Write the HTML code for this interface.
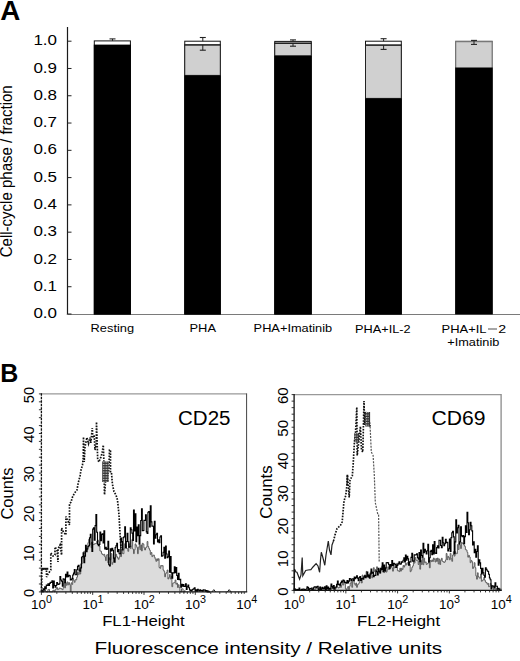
<!DOCTYPE html>
<html><head><meta charset="utf-8"><title>Figure</title>
<style>
html,body{margin:0;padding:0;background:#fff;}
body{width:520px;height:661px;overflow:hidden;font-family:"Liberation Sans",sans-serif;}
svg{display:block;}
text{fill:#000;}
</style></head>
<body>
<svg width="520" height="661" viewBox="0 0 520 661">
<rect x="0" y="0" width="520" height="661" fill="#fff"/>
<text x="0.2" y="20" font-size="27.8" font-weight="bold" font-family="'Liberation Sans', sans-serif">A</text>
<line x1="67.5" y1="27.0" x2="67.5" y2="314.90000000000003" stroke="#1a1a1a" stroke-width="1.2"/>
<line x1="66.9" y1="314.5" x2="520" y2="314.5" stroke="#7a7a7a" stroke-width="1.1"/>
<line x1="67.5" y1="41.20" x2="71.5" y2="41.20" stroke="#222" stroke-width="1"/>
<text x="57.0" y="45.30" font-size="15" text-anchor="end" textLength="23.6" lengthAdjust="spacingAndGlyphs" font-family="'Liberation Sans', sans-serif">1.0</text>
<line x1="67.5" y1="68.48" x2="71.5" y2="68.48" stroke="#222" stroke-width="1"/>
<text x="57.0" y="72.58" font-size="15" text-anchor="end" textLength="23.6" lengthAdjust="spacingAndGlyphs" font-family="'Liberation Sans', sans-serif">0.9</text>
<line x1="67.5" y1="95.76" x2="71.5" y2="95.76" stroke="#222" stroke-width="1"/>
<text x="57.0" y="99.86" font-size="15" text-anchor="end" textLength="23.6" lengthAdjust="spacingAndGlyphs" font-family="'Liberation Sans', sans-serif">0.8</text>
<line x1="67.5" y1="123.04" x2="71.5" y2="123.04" stroke="#222" stroke-width="1"/>
<text x="57.0" y="127.14" font-size="15" text-anchor="end" textLength="23.6" lengthAdjust="spacingAndGlyphs" font-family="'Liberation Sans', sans-serif">0.7</text>
<line x1="67.5" y1="150.32" x2="71.5" y2="150.32" stroke="#222" stroke-width="1"/>
<text x="57.0" y="154.42" font-size="15" text-anchor="end" textLength="23.6" lengthAdjust="spacingAndGlyphs" font-family="'Liberation Sans', sans-serif">0.6</text>
<line x1="67.5" y1="177.60" x2="71.5" y2="177.60" stroke="#222" stroke-width="1"/>
<text x="57.0" y="181.70" font-size="15" text-anchor="end" textLength="23.6" lengthAdjust="spacingAndGlyphs" font-family="'Liberation Sans', sans-serif">0.5</text>
<line x1="67.5" y1="204.88" x2="71.5" y2="204.88" stroke="#222" stroke-width="1"/>
<text x="57.0" y="208.98" font-size="15" text-anchor="end" textLength="23.6" lengthAdjust="spacingAndGlyphs" font-family="'Liberation Sans', sans-serif">0.4</text>
<line x1="67.5" y1="232.16" x2="71.5" y2="232.16" stroke="#222" stroke-width="1"/>
<text x="57.0" y="236.26" font-size="15" text-anchor="end" textLength="23.6" lengthAdjust="spacingAndGlyphs" font-family="'Liberation Sans', sans-serif">0.3</text>
<line x1="67.5" y1="259.44" x2="71.5" y2="259.44" stroke="#222" stroke-width="1"/>
<text x="57.0" y="263.54" font-size="15" text-anchor="end" textLength="23.6" lengthAdjust="spacingAndGlyphs" font-family="'Liberation Sans', sans-serif">0.2</text>
<line x1="67.5" y1="286.72" x2="71.5" y2="286.72" stroke="#222" stroke-width="1"/>
<text x="57.0" y="290.82" font-size="15" text-anchor="end" textLength="23.6" lengthAdjust="spacingAndGlyphs" font-family="'Liberation Sans', sans-serif">0.1</text>
<line x1="67.5" y1="314.00" x2="71.5" y2="314.00" stroke="#222" stroke-width="1"/>
<text x="57.0" y="318.10" font-size="15" text-anchor="end" textLength="23.6" lengthAdjust="spacingAndGlyphs" font-family="'Liberation Sans', sans-serif">0.0</text>
<text transform="translate(12.3,257.3) rotate(-90)" font-size="16" textLength="172" lengthAdjust="spacingAndGlyphs" font-family="'Liberation Sans', sans-serif">Cell-cycle phase / fraction</text>
<rect x="94.3" y="40.9" width="36.10000000000001" height="273.40000000000003" fill="#fff" stroke="#111" stroke-width="1"/>
<rect x="93.8" y="44.6" width="37.10000000000001" height="269.7" fill="#000"/>
<line x1="112.50" y1="38.9" x2="112.50" y2="40.9" stroke="#222" stroke-width="1"/>
<line x1="109.50" y1="38.9" x2="115.50" y2="38.9" stroke="#222" stroke-width="1.1"/>
<rect x="184.75" y="41.2" width="35.55000000000001" height="273.1" fill="#fff" stroke="#111" stroke-width="1"/>
<rect x="184.75" y="44.9" width="35.55000000000001" height="30.500000000000007" fill="#d0d0d0" stroke="#222" stroke-width="1"/>
<line x1="184.25" y1="44.9" x2="220.8" y2="44.9" stroke="#222" stroke-width="1.4"/>
<rect x="184.25" y="75.4" width="36.55000000000001" height="238.9" fill="#000"/>
<line x1="202.80" y1="37.5" x2="202.80" y2="41.2" stroke="#222" stroke-width="1"/>
<line x1="199.80" y1="37.5" x2="205.80" y2="37.5" stroke="#222" stroke-width="1.1"/>
<line x1="202.80" y1="44.9" x2="202.80" y2="50.2" stroke="#222" stroke-width="1"/>
<line x1="199.80" y1="50.2" x2="205.80" y2="50.2" stroke="#222" stroke-width="1.1"/>
<rect x="274.75" y="41.4" width="36.5" height="272.90000000000003" fill="#fff" stroke="#111" stroke-width="1"/>
<rect x="274.75" y="43.3" width="36.5" height="12.5" fill="#d0d0d0" stroke="#222" stroke-width="1"/>
<line x1="274.25" y1="43.3" x2="311.75" y2="43.3" stroke="#222" stroke-width="1.4"/>
<rect x="274.25" y="55.8" width="37.5" height="258.5" fill="#000"/>
<line x1="293.00" y1="39.9" x2="293.00" y2="41.4" stroke="#222" stroke-width="1"/>
<line x1="290.00" y1="39.9" x2="296.00" y2="39.9" stroke="#222" stroke-width="1.1"/>
<line x1="293.00" y1="43.3" x2="293.00" y2="46.2" stroke="#222" stroke-width="1"/>
<line x1="290.00" y1="46.2" x2="296.00" y2="46.2" stroke="#222" stroke-width="1.1"/>
<rect x="365.5" y="41.2" width="35.80000000000001" height="273.1" fill="#fff" stroke="#111" stroke-width="1"/>
<rect x="365.5" y="45.1" width="35.80000000000001" height="53.300000000000004" fill="#d0d0d0" stroke="#222" stroke-width="1"/>
<line x1="365.0" y1="45.1" x2="401.8" y2="45.1" stroke="#222" stroke-width="1.4"/>
<rect x="365.0" y="98.4" width="36.80000000000001" height="215.9" fill="#000"/>
<line x1="383.60" y1="38.7" x2="383.60" y2="41.2" stroke="#222" stroke-width="1"/>
<line x1="380.60" y1="38.7" x2="386.60" y2="38.7" stroke="#222" stroke-width="1.1"/>
<line x1="383.60" y1="45.1" x2="383.60" y2="49.4" stroke="#222" stroke-width="1"/>
<line x1="380.60" y1="49.4" x2="386.60" y2="49.4" stroke="#222" stroke-width="1.1"/>
<rect x="455.7" y="41.4" width="36.5" height="272.90000000000003" fill="#d0d0d0" stroke="#555" stroke-width="1"/>
<rect x="455.2" y="67.5" width="37.5" height="246.8" fill="#000"/>
<line x1="455.2" y1="41.4" x2="492.7" y2="41.4" stroke="#777" stroke-width="1.5"/>
<line x1="474.00" y1="40.4" x2="474.00" y2="41.4" stroke="#222" stroke-width="1"/>
<line x1="471.00" y1="40.4" x2="477.00" y2="40.4" stroke="#222" stroke-width="1.1"/>
<line x1="474.00" y1="41.4" x2="474.00" y2="44.4" stroke="#222" stroke-width="1"/>
<line x1="471.00" y1="44.4" x2="477.00" y2="44.4" stroke="#222" stroke-width="1.1"/>
<text x="90.6" y="332.0" font-size="11.2" text-anchor="start" textLength="43.5" lengthAdjust="spacingAndGlyphs" font-family="'Liberation Sans', sans-serif">Resting</text>
<text x="189.5" y="332.2" font-size="11.2" text-anchor="start" textLength="26.5" lengthAdjust="spacingAndGlyphs" font-family="'Liberation Sans', sans-serif">PHA</text>
<text x="253.6" y="332.2" font-size="11.2" text-anchor="start" textLength="78.6" lengthAdjust="spacingAndGlyphs" font-family="'Liberation Sans', sans-serif">PHA+Imatinib</text>
<text x="355.1" y="332.6" font-size="11.2" text-anchor="start" textLength="55.5" lengthAdjust="spacingAndGlyphs" font-family="'Liberation Sans', sans-serif">PHA+IL-2</text>
<text x="441.5" y="332.6" font-size="11.2" text-anchor="start" textLength="45.0" lengthAdjust="spacingAndGlyphs" font-family="'Liberation Sans', sans-serif">PHA+IL</text>
<line x1="488.0" y1="329.0" x2="497.0" y2="329.0" stroke="#3a3a3a" stroke-width="0.9"/>
<text x="498.3" y="332.6" font-size="11.2" text-anchor="start" textLength="7.9" lengthAdjust="spacingAndGlyphs" font-family="'Liberation Sans', sans-serif">2</text>
<text x="447.3" y="345.7" font-size="11.2" text-anchor="start" textLength="52.0" lengthAdjust="spacingAndGlyphs" font-family="'Liberation Sans', sans-serif">+Imatinib</text>
<text x="0.3" y="382" font-size="25" font-weight="bold" font-family="'Liberation Sans', sans-serif">B</text>
<polyline points="212,591.9 213.8,589.6 215.6,591.9" fill="none" stroke="#222" stroke-width="1"/>
<polyline points="227.4,591.9 229.2,589.6 231,591.9" fill="none" stroke="#222" stroke-width="1"/>
<line x1="41.8" y1="568.8" x2="48.3" y2="568.8" stroke="#111" stroke-width="2"/>
<polygon points="41.5,591.9 41.5,590.2 42.3,590.2 42.3,591.9 43.1,591.9 43.1,591.9 43.9,591.9 43.9,590.8 44.7,590.8 44.7,589.8 45.5,589.8 45.5,591.3 46.3,591.3 46.3,591.9 47.1,591.9 47.1,591.9 47.9,591.9 47.9,589.6 48.7,589.6 48.7,589.4 49.5,589.4 49.5,591.9 50.3,591.9 50.3,591.8 51.1,591.8 51.1,591.9 51.9,591.9 51.9,591.9 52.7,591.9 52.7,590.5 53.5,590.5 53.5,590.1 54.3,590.1 54.3,591.9 55.1,591.9 55.1,589.8 55.9,589.8 55.9,588.7 56.7,588.7 56.7,587.6 57.5,587.6 57.5,589.6 58.3,589.6 58.3,589.3 59.1,589.3 59.1,588.0 59.9,588.0 59.9,588.2 60.7,588.2 60.7,588.6 61.5,588.6 61.5,589.1 62.3,589.1 62.3,589.7 63.1,589.7 63.1,587.5 63.9,587.5 63.9,582.8 64.7,582.8 64.7,587.9 65.5,587.9 65.5,582.9 66.3,582.9 66.3,585.3 67.1,585.3 67.1,581.9 67.9,581.9 67.9,584.9 68.7,584.9 68.7,582.6 69.5,582.6 69.5,584.6 70.3,584.6 70.3,591.5 71.1,591.5 71.1,582.8 71.9,582.8 71.9,584.4 72.7,584.4 72.7,578.4 73.5,578.4 73.5,580.4 74.3,580.4 74.3,582.3 75.1,582.3 75.1,579.7 75.9,579.7 75.9,579.9 76.7,579.9 76.7,577.2 77.5,577.2 77.5,572.3 78.3,572.3 78.3,574.7 79.1,574.7 79.1,568.9 79.9,568.9 79.9,574.0 80.7,574.0 80.7,563.8 81.5,563.8 81.5,563.8 82.3,563.8 82.3,558.4 83.1,558.4 83.1,557.8 83.9,557.8 83.9,551.1 84.7,551.1 84.7,553.8 85.5,553.8 85.5,548.3 86.3,548.3 86.3,550.3 87.1,550.3 87.1,546.3 87.9,546.3 87.9,542.7 88.7,542.7 88.7,539.4 89.5,539.4 89.5,544.4 90.3,544.4 90.3,543.8 91.1,543.8 91.1,547.7 91.9,547.7 91.9,541.9 92.7,541.9 92.7,544.7 93.5,544.7 93.5,544.5 94.3,544.5 94.3,543.8 95.1,543.8 95.1,543.6 95.9,543.6 95.9,543.5 96.7,543.5 96.7,541.2 97.5,541.2 97.5,540.0 98.3,540.0 98.3,541.8 99.1,541.8 99.1,546.1 99.9,546.1 99.9,550.9 100.7,550.9 100.7,551.3 101.5,551.3 101.5,553.6 102.3,553.6 102.3,554.5 103.1,554.5 103.1,555.1 103.9,555.1 103.9,554.3 104.7,554.3 104.7,556.8 105.5,556.8 105.5,560.6 106.3,560.6 106.3,555.1 107.1,555.1 107.1,554.7 107.9,554.7 107.9,562.9 108.7,562.9 108.7,557.7 109.5,557.7 109.5,559.9 110.3,559.9 110.3,559.6 111.1,559.6 111.1,553.6 111.9,553.6 111.9,564.3 112.7,564.3 112.7,562.3 113.5,562.3 113.5,557.5 114.3,557.5 114.3,559.3 115.1,559.3 115.1,557.4 115.9,557.4 115.9,554.3 116.7,554.3 116.7,556.7 117.5,556.7 117.5,558.1 118.3,558.1 118.3,559.3 119.1,559.3 119.1,557.0 119.9,557.0 119.9,553.9 120.7,553.9 120.7,556.6 121.5,556.6 121.5,549.4 122.3,549.4 122.3,553.4 123.1,553.4 123.1,553.7 123.9,553.7 123.9,548.8 124.7,548.8 124.7,543.7 125.5,543.7 125.5,545.7 126.3,545.7 126.3,548.5 127.1,548.5 127.1,548.7 127.9,548.7 127.9,551.3 128.7,551.3 128.7,543.7 129.5,543.7 129.5,546.7 130.3,546.7 130.3,548.6 131.1,548.6 131.1,546.2 131.9,546.2 131.9,539.6 132.7,539.6 132.7,549.1 133.5,549.1 133.5,553.6 134.3,553.6 134.3,549.7 135.1,549.7 135.1,543.9 135.9,543.9 135.9,545.5 136.7,545.5 136.7,547.3 137.5,547.3 137.5,553.7 138.3,553.7 138.3,547.6 139.1,547.6 139.1,545.6 139.9,545.6 139.9,549.7 140.7,549.7 140.7,544.9 141.5,544.9 141.5,550.9 142.3,550.9 142.3,543.3 143.1,543.3 143.1,544.1 143.9,544.1 143.9,547.8 144.7,547.8 144.7,550.0 145.5,550.0 145.5,547.8 146.3,547.8 146.3,546.9 147.1,546.9 147.1,541.5 147.9,541.5 147.9,546.5 148.7,546.5 148.7,548.4 149.5,548.4 149.5,550.2 150.3,550.2 150.3,554.4 151.1,554.4 151.1,552.5 151.9,552.5 151.9,556.6 152.7,556.6 152.7,555.3 153.5,555.3 153.5,555.0 154.3,555.0 154.3,557.2 155.1,557.2 155.1,559.1 155.9,559.1 155.9,561.3 156.7,561.3 156.7,558.8 157.5,558.8 157.5,560.5 158.3,560.5 158.3,558.7 159.1,558.7 159.1,567.5 159.9,567.5 159.9,568.3 160.7,568.3 160.7,565.5 161.5,565.5 161.5,566.1 162.3,566.1 162.3,565.6 163.1,565.6 163.1,570.1 163.9,570.1 163.9,571.3 164.7,571.3 164.7,576.8 165.5,576.8 165.5,573.6 166.3,573.6 166.3,572.5 167.1,572.5 167.1,570.0 167.9,570.0 167.9,579.0 168.7,579.0 168.7,577.3 169.5,577.3 169.5,574.5 170.3,574.5 170.3,579.0 171.1,579.0 171.1,576.4 171.9,576.4 171.9,586.7 172.7,586.7 172.7,583.1 173.5,583.1 173.5,582.9 174.3,582.9 174.3,582.4 175.1,582.4 175.1,580.0 175.9,580.0 175.9,584.2 176.7,584.2 176.7,583.1 177.5,583.1 177.5,587.5 178.3,587.5 178.3,584.7 179.1,584.7 179.1,587.6 179.9,587.6 179.9,591.2 180.7,591.2 180.7,591.9 181.5,591.9 181.5,588.8 182.3,588.8 182.3,588.8 183.1,588.8 183.1,591.9 183.9,591.9 183.9,591.9 184.7,591.9 184.7,590.5 185.0,590.5 185.0,591.9" fill="#dcdcdc" stroke="none"/>
<polyline points="41.5,591.9 41.5,590.2 42.3,590.2 42.3,591.9 43.1,591.9 43.1,591.9 43.9,591.9 43.9,590.8 44.7,590.8 44.7,589.8 45.5,589.8 45.5,591.3 46.3,591.3 46.3,591.9 47.1,591.9 47.1,591.9 47.9,591.9 47.9,589.6 48.7,589.6 48.7,589.4 49.5,589.4 49.5,591.9 50.3,591.9 50.3,591.8 51.1,591.8 51.1,591.9 51.9,591.9 51.9,591.9 52.7,591.9 52.7,590.5 53.5,590.5 53.5,590.1 54.3,590.1 54.3,591.9 55.1,591.9 55.1,589.8 55.9,589.8 55.9,588.7 56.7,588.7 56.7,587.6 57.5,587.6 57.5,589.6 58.3,589.6 58.3,589.3 59.1,589.3 59.1,588.0 59.9,588.0 59.9,588.2 60.7,588.2 60.7,588.6 61.5,588.6 61.5,589.1 62.3,589.1 62.3,589.7 63.1,589.7 63.1,587.5 63.9,587.5 63.9,582.8 64.7,582.8 64.7,587.9 65.5,587.9 65.5,582.9 66.3,582.9 66.3,585.3 67.1,585.3 67.1,581.9 67.9,581.9 67.9,584.9 68.7,584.9 68.7,582.6 69.5,582.6 69.5,584.6 70.3,584.6 70.3,591.5 71.1,591.5 71.1,582.8 71.9,582.8 71.9,584.4 72.7,584.4 72.7,578.4 73.5,578.4 73.5,580.4 74.3,580.4 74.3,582.3 75.1,582.3 75.1,579.7 75.9,579.7 75.9,579.9 76.7,579.9 76.7,577.2 77.5,577.2 77.5,572.3 78.3,572.3 78.3,574.7 79.1,574.7 79.1,568.9 79.9,568.9 79.9,574.0 80.7,574.0 80.7,563.8 81.5,563.8 81.5,563.8 82.3,563.8 82.3,558.4 83.1,558.4 83.1,557.8 83.9,557.8 83.9,551.1 84.7,551.1 84.7,553.8 85.5,553.8 85.5,548.3 86.3,548.3 86.3,550.3 87.1,550.3 87.1,546.3 87.9,546.3 87.9,542.7 88.7,542.7 88.7,539.4 89.5,539.4 89.5,544.4 90.3,544.4 90.3,543.8 91.1,543.8 91.1,547.7 91.9,547.7 91.9,541.9 92.7,541.9 92.7,544.7 93.5,544.7 93.5,544.5 94.3,544.5 94.3,543.8 95.1,543.8 95.1,543.6 95.9,543.6 95.9,543.5 96.7,543.5 96.7,541.2 97.5,541.2 97.5,540.0 98.3,540.0 98.3,541.8 99.1,541.8 99.1,546.1 99.9,546.1 99.9,550.9 100.7,550.9 100.7,551.3 101.5,551.3 101.5,553.6 102.3,553.6 102.3,554.5 103.1,554.5 103.1,555.1 103.9,555.1 103.9,554.3 104.7,554.3 104.7,556.8 105.5,556.8 105.5,560.6 106.3,560.6 106.3,555.1 107.1,555.1 107.1,554.7 107.9,554.7 107.9,562.9 108.7,562.9 108.7,557.7 109.5,557.7 109.5,559.9 110.3,559.9 110.3,559.6 111.1,559.6 111.1,553.6 111.9,553.6 111.9,564.3 112.7,564.3 112.7,562.3 113.5,562.3 113.5,557.5 114.3,557.5 114.3,559.3 115.1,559.3 115.1,557.4 115.9,557.4 115.9,554.3 116.7,554.3 116.7,556.7 117.5,556.7 117.5,558.1 118.3,558.1 118.3,559.3 119.1,559.3 119.1,557.0 119.9,557.0 119.9,553.9 120.7,553.9 120.7,556.6 121.5,556.6 121.5,549.4 122.3,549.4 122.3,553.4 123.1,553.4 123.1,553.7 123.9,553.7 123.9,548.8 124.7,548.8 124.7,543.7 125.5,543.7 125.5,545.7 126.3,545.7 126.3,548.5 127.1,548.5 127.1,548.7 127.9,548.7 127.9,551.3 128.7,551.3 128.7,543.7 129.5,543.7 129.5,546.7 130.3,546.7 130.3,548.6 131.1,548.6 131.1,546.2 131.9,546.2 131.9,539.6 132.7,539.6 132.7,549.1 133.5,549.1 133.5,553.6 134.3,553.6 134.3,549.7 135.1,549.7 135.1,543.9 135.9,543.9 135.9,545.5 136.7,545.5 136.7,547.3 137.5,547.3 137.5,553.7 138.3,553.7 138.3,547.6 139.1,547.6 139.1,545.6 139.9,545.6 139.9,549.7 140.7,549.7 140.7,544.9 141.5,544.9 141.5,550.9 142.3,550.9 142.3,543.3 143.1,543.3 143.1,544.1 143.9,544.1 143.9,547.8 144.7,547.8 144.7,550.0 145.5,550.0 145.5,547.8 146.3,547.8 146.3,546.9 147.1,546.9 147.1,541.5 147.9,541.5 147.9,546.5 148.7,546.5 148.7,548.4 149.5,548.4 149.5,550.2 150.3,550.2 150.3,554.4 151.1,554.4 151.1,552.5 151.9,552.5 151.9,556.6 152.7,556.6 152.7,555.3 153.5,555.3 153.5,555.0 154.3,555.0 154.3,557.2 155.1,557.2 155.1,559.1 155.9,559.1 155.9,561.3 156.7,561.3 156.7,558.8 157.5,558.8 157.5,560.5 158.3,560.5 158.3,558.7 159.1,558.7 159.1,567.5 159.9,567.5 159.9,568.3 160.7,568.3 160.7,565.5 161.5,565.5 161.5,566.1 162.3,566.1 162.3,565.6 163.1,565.6 163.1,570.1 163.9,570.1 163.9,571.3 164.7,571.3 164.7,576.8 165.5,576.8 165.5,573.6 166.3,573.6 166.3,572.5 167.1,572.5 167.1,570.0 167.9,570.0 167.9,579.0 168.7,579.0 168.7,577.3 169.5,577.3 169.5,574.5 170.3,574.5 170.3,579.0 171.1,579.0 171.1,576.4 171.9,576.4 171.9,586.7 172.7,586.7 172.7,583.1 173.5,583.1 173.5,582.9 174.3,582.9 174.3,582.4 175.1,582.4 175.1,580.0 175.9,580.0 175.9,584.2 176.7,584.2 176.7,583.1 177.5,583.1 177.5,587.5 178.3,587.5 178.3,584.7 179.1,584.7 179.1,587.6 179.9,587.6 179.9,591.2 180.7,591.2 180.7,591.9 181.5,591.9 181.5,588.8 182.3,588.8 182.3,588.8 183.1,588.8 183.1,591.9 183.9,591.9 183.9,591.9 184.7,591.9 184.7,590.5 185.0,590.5 185.0,591.9" fill="none" stroke="#555" stroke-width="0.9"/>
<polyline points="41.6,591.5 41.8,568.8 46.5,568.8 46.5,577.0 48.0,574.0 50.8,570.0 50.8,553.0 53.0,556.0 55.0,555.0 55.0,547.0 57.0,550.0 58.0,562.0 58.0,549.0 60.0,545.0 61.6,555.0 61.6,528.0 63.5,532.0 65.9,535.0 65.9,516.5 67.5,520.0 69.5,525.0 69.5,504.0 71.0,502.0 72.5,497.0 74.5,493.0 77.0,490.0 78.0,484.0 79.0,480.0 80.0,476.0 81.0,470.0 82.5,465.0 83.2,458.0 83.5,437.0 84.2,462.0 85.0,447.0 86.9,437.5 88.5,443.5 90.0,437.5 90.8,443.0 92.3,428.0 92.8,438.0 94.2,435.0 95.0,450.0 96.3,444.0 96.5,422.0 97.2,445.0 97.7,459.6 99.0,462.0 100.0,459.0 101.0,457.0 102.3,452.0 103.3,445.0 103.8,459.0 104.5,494.7 105.5,482.0 108.8,470.0 109.5,450.0 110.5,450.0 110.5,472.7 111.5,473.0 112.4,484.0 114.0,491.7 116.0,495.0 117.5,500.0 119.0,515.0 120.4,540.0 121.0,548.0" fill="none" stroke="#111" stroke-width="1.7" stroke-dasharray="1.6,1.3"/>
<rect x="102.2" y="461.4" width="6.599999999999994" height="20.600000000000023" fill="#333"/>
<line x1="103.4" y1="461.4" x2="103.4" y2="482.0" stroke="#fff" stroke-width="0.7" stroke-dasharray="1.2,1.3"/>
<line x1="105.0" y1="461.4" x2="105.0" y2="482.0" stroke="#fff" stroke-width="0.7" stroke-dasharray="1.2,1.3"/>
<line x1="106.6" y1="461.4" x2="106.6" y2="482.0" stroke="#fff" stroke-width="0.7" stroke-dasharray="1.2,1.3"/>
<line x1="108.2" y1="461.4" x2="108.2" y2="482.0" stroke="#fff" stroke-width="0.7" stroke-dasharray="1.2,1.3"/>
<polyline points="41.5,591.9 41.5,590.8 42.3,590.8 42.3,591.7 43.1,591.7 43.1,588.8 43.9,588.8 43.9,590.0 44.7,590.0 44.7,586.8 45.5,586.8 45.5,588.7 46.3,588.7 46.3,585.0 47.1,585.0 47.1,585.4 47.9,585.4 47.9,583.9 48.7,583.9 48.7,585.5 49.5,585.5 49.5,583.4 50.3,583.4 50.3,582.3 51.1,582.3 51.1,582.4 51.9,582.4 51.9,580.9 52.7,580.9 52.7,588.0 53.5,588.0 53.5,581.1 54.3,581.1 54.3,585.5 55.1,585.5 55.1,587.3 55.9,587.3 55.9,585.5 56.7,585.5 56.7,582.6 57.5,582.6 57.5,584.1 58.3,584.1 58.3,584.4 59.1,584.4 59.1,583.7 59.9,583.7 59.9,576.5 60.7,576.5 60.7,580.0 61.5,580.0 61.5,581.2 62.3,581.2 62.3,586.2 63.1,586.2 63.1,578.9 63.9,578.9 63.9,579.3 64.7,579.3 64.7,582.8 65.5,582.8 65.5,574.2 66.3,574.2 66.3,576.9 67.1,576.9 67.1,572.1 67.9,572.1 67.9,576.6 68.7,576.6 68.7,575.3 69.5,575.3 69.5,575.7 70.3,575.7 70.3,580.0 71.1,580.0 71.1,579.6 71.9,579.6 71.9,578.4 72.7,578.4 72.7,575.0 73.5,575.0 73.5,573.1 74.3,573.1 74.3,569.6 75.1,569.6 75.1,574.8 75.9,574.8 75.9,574.7 76.7,574.7 76.7,569.8 77.5,569.8 77.5,566.4 78.3,566.4 78.3,565.2 79.1,565.2 79.1,570.3 79.9,570.3 79.9,571.3 80.7,571.3 80.7,567.9 81.5,567.9 81.5,557.2 82.3,557.2 82.3,556.6 83.1,556.6 83.1,552.8 83.9,552.8 83.9,562.8 84.7,562.8 84.7,556.1 85.5,556.1 85.5,545.4 86.3,545.4 86.3,551.8 87.1,551.8 87.1,548.9 87.9,548.9 87.9,546.7 88.7,546.7 88.7,545.7 89.5,545.7 89.5,537.7 90.3,537.7 90.3,534.4 91.1,534.4 91.1,543.0 91.9,543.0 91.9,551.4 92.7,551.4 92.7,529.1 93.5,529.1 93.5,527.8 94.3,527.8 94.3,540.3 95.1,540.3 95.1,525.6 95.9,525.6 95.9,514.5 96.7,514.5 96.7,532.2 97.5,532.2 97.5,544.2 98.3,544.2 98.3,545.8 99.1,545.8 99.1,544.4 99.9,544.4 99.9,532.1 100.7,532.1 100.7,540.6 101.5,540.6 101.5,534.4 102.3,534.4 102.3,533.9 103.1,533.9 103.1,542.9 103.9,542.9 103.9,530.8 104.7,530.8 104.7,548.9 105.5,548.9 105.5,547.2 106.3,547.2 106.3,549.5 107.1,549.5 107.1,548.9 107.9,548.9 107.9,541.2 108.7,541.2 108.7,564.7 109.5,564.7 109.5,566.0 110.3,566.0 110.3,548.7 111.1,548.7 111.1,550.9 111.9,550.9 111.9,548.3 112.7,548.3 112.7,550.2 113.5,550.2 113.5,558.2 114.3,558.2 114.3,562.2 115.1,562.2 115.1,547.6 115.9,547.6 115.9,545.9 116.7,545.9 116.7,543.2 117.5,543.2 117.5,551.7 118.3,551.7 118.3,549.5 119.1,549.5 119.1,553.7 119.9,553.7 119.9,553.7 120.7,553.7 120.7,538.0 121.5,538.0 121.5,541.6 122.3,541.6 122.3,549.9 123.1,549.9 123.1,537.6 123.9,537.6 123.9,536.7 124.7,536.7 124.7,526.7 125.5,526.7 125.5,547.7 126.3,547.7 126.3,541.5 127.1,541.5 127.1,533.3 127.9,533.3 127.9,541.8 128.7,541.8 128.7,547.3 129.5,547.3 129.5,546.7 130.3,546.7 130.3,527.7 131.1,527.7 131.1,529.7 131.9,529.7 131.9,533.1 132.7,533.1 132.7,540.4 133.5,540.4 133.5,510.1 134.3,510.1 134.3,530.9 135.1,530.9 135.1,513.7 135.9,513.7 135.9,541.8 136.7,541.8 136.7,527.1 137.5,527.1 137.5,535.6 138.3,535.6 138.3,524.7 139.1,524.7 139.1,544.3 139.9,544.3 139.9,535.6 140.7,535.6 140.7,520.5 141.5,520.5 141.5,508.7 142.3,508.7 142.3,530.7 143.1,530.7 143.1,530.5 143.9,530.5 143.9,520.4 144.7,520.4 144.7,520.4 145.5,520.4 145.5,514.7 146.3,514.7 146.3,531.9 147.1,531.9 147.1,533.5 147.9,533.5 147.9,512.3 148.7,512.3 148.7,511.5 149.5,511.5 149.5,527.0 150.3,527.0 150.3,505.7 151.1,505.7 151.1,521.9 151.9,521.9 151.9,526.1 152.7,526.1 152.7,526.2 153.5,526.2 153.5,543.9 154.3,543.9 154.3,521.3 155.1,521.3 155.1,538.2 155.9,538.2 155.9,534.7 156.7,534.7 156.7,533.3 157.5,533.3 157.5,541.9 158.3,541.9 158.3,539.8 159.1,539.8 159.1,542.8 159.9,542.8 159.9,537.0 160.7,537.0 160.7,535.8 161.5,535.8 161.5,556.1 162.3,556.1 162.3,555.7 163.1,555.7 163.1,552.2 163.9,552.2 163.9,547.4 164.7,547.4 164.7,558.2 165.5,558.2 165.5,546.0 166.3,546.0 166.3,554.0 167.1,554.0 167.1,557.6 167.9,557.6 167.9,556.8 168.7,556.8 168.7,551.0 169.5,551.0 169.5,572.1 170.3,572.1 170.3,556.6 171.1,556.6 171.1,572.7 171.9,572.7 171.9,578.2 172.7,578.2 172.7,572.7 173.5,572.7 173.5,573.0 174.3,573.0 174.3,566.8 175.1,566.8 175.1,572.7 175.9,572.7 175.9,567.5 176.7,567.5 176.7,575.5 177.5,575.5 177.5,579.4 178.3,579.4 178.3,573.3 179.1,573.3 179.1,579.6 179.9,579.6 179.9,579.3 180.7,579.3 180.7,587.1 181.5,587.1 181.5,584.2 182.3,584.2 182.3,586.1 183.1,586.1 183.1,584.5 183.9,584.5 183.9,586.4 184.7,586.4 184.7,586.5 185.5,586.5 185.5,583.7 186.3,583.7 186.3,589.5 187.1,589.5 187.1,586.8 187.9,586.8 187.9,585.0 188.7,585.0 188.7,587.8 189.5,587.8 189.5,589.9 190.3,589.9 190.3,590.4 191.1,590.4 191.1,590.9 191.9,590.9 191.9,589.9 192.7,589.9 192.7,589.2 193.5,589.2 193.5,588.9 194.3,588.9 194.3,587.8 195.1,587.8 195.1,591.1 195.9,591.1 195.9,589.9 196.7,589.9 196.7,591.3 197.5,591.3 197.5,589.4 198.3,589.4 198.3,590.2 199.1,590.2 199.1,591.0 199.9,591.0 199.9,589.8 200.7,589.8 200.7,590.6 201.5,590.6 201.5,590.6 202.3,590.6 202.3,591.1 203.1,591.1 203.1,589.7 203.9,589.7 203.9,590.1 204.7,590.1 204.7,590.0 205.5,590.0 205.5,591.1 206.3,591.1 206.3,590.6 207.1,590.6 207.1,591.9 207.9,591.9 207.9,591.0 208.7,591.0 208.7,591.9 209.5,591.9 209.5,591.9 210.0,591.9 210.0,591.9" fill="none" stroke="#000" stroke-width="1.1"/>
<polygon points="294.2,590.4 294.2,590.4 295.0,590.4 295.0,589.2 295.8,589.2 295.8,590.4 296.6,590.4 296.6,589.8 297.4,589.8 297.4,589.2 298.2,589.2 298.2,589.5 299.0,589.5 299.0,589.5 299.8,589.5 299.8,589.8 300.6,589.8 300.6,590.3 301.4,590.3 301.4,590.4 302.2,590.4 302.2,590.0 303.0,590.0 303.0,590.4 303.8,590.4 303.8,590.2 304.6,590.2 304.6,589.8 305.4,589.8 305.4,589.4 306.2,589.4 306.2,588.5 307.0,588.5 307.0,587.7 307.8,587.7 307.8,589.4 308.6,589.4 308.6,589.2 309.4,589.2 309.4,589.8 310.2,589.8 310.2,589.8 311.0,589.8 311.0,587.7 311.8,587.7 311.8,588.4 312.6,588.4 312.6,587.8 313.4,587.8 313.4,590.4 314.2,590.4 314.2,589.0 315.0,589.0 315.0,589.3 315.8,589.3 315.8,587.8 316.6,587.8 316.6,587.3 317.4,587.3 317.4,588.2 318.2,588.2 318.2,588.8 319.0,588.8 319.0,589.6 319.8,589.6 319.8,586.6 320.6,586.6 320.6,589.3 321.4,589.3 321.4,587.5 322.2,587.5 322.2,587.9 323.0,587.9 323.0,588.2 323.8,588.2 323.8,588.0 324.6,588.0 324.6,589.4 325.4,589.4 325.4,590.0 326.2,590.0 326.2,589.1 327.0,589.1 327.0,587.6 327.8,587.6 327.8,589.2 328.6,589.2 328.6,589.1 329.4,589.1 329.4,589.9 330.2,589.9 330.2,588.7 331.0,588.7 331.0,585.3 331.8,585.3 331.8,586.7 332.6,586.7 332.6,587.2 333.4,587.2 333.4,589.4 334.2,589.4 334.2,587.4 335.0,587.4 335.0,589.2 335.8,589.2 335.8,587.9 336.6,587.9 336.6,584.9 337.4,584.9 337.4,587.2 338.2,587.2 338.2,588.0 339.0,588.0 339.0,587.6 339.8,587.6 339.8,583.7 340.6,583.7 340.6,587.4 341.4,587.4 341.4,585.2 342.2,585.2 342.2,582.0 343.0,582.0 343.0,585.0 343.8,585.0 343.8,582.0 344.6,582.0 344.6,583.2 345.4,583.2 345.4,588.8 346.2,588.8 346.2,590.4 347.0,590.4 347.0,587.9 347.8,587.9 347.8,586.5 348.6,586.5 348.6,589.6 349.4,589.6 349.4,586.2 350.2,586.2 350.2,583.3 351.0,583.3 351.0,580.1 351.8,580.1 351.8,587.3 352.6,587.3 352.6,580.3 353.4,580.3 353.4,578.9 354.2,578.9 354.2,583.7 355.0,583.7 355.0,585.2 355.8,585.2 355.8,583.0 356.6,583.0 356.6,587.3 357.4,587.3 357.4,584.7 358.2,584.7 358.2,583.9 359.0,583.9 359.0,582.6 359.8,582.6 359.8,578.4 360.6,578.4 360.6,578.3 361.4,578.3 361.4,583.0 362.2,583.0 362.2,575.0 363.0,575.0 363.0,577.2 363.8,577.2 363.8,577.8 364.6,577.8 364.6,574.9 365.4,574.9 365.4,575.8 366.2,575.8 366.2,571.4 367.0,571.4 367.0,574.1 367.8,574.1 367.8,575.0 368.6,575.0 368.6,577.3 369.4,577.3 369.4,576.6 370.2,576.6 370.2,572.5 371.0,572.5 371.0,570.8 371.8,570.8 371.8,577.9 372.6,577.9 372.6,575.2 373.4,575.2 373.4,567.7 374.2,567.7 374.2,571.4 375.0,571.4 375.0,569.6 375.8,569.6 375.8,570.0 376.6,570.0 376.6,566.8 377.4,566.8 377.4,569.8 378.2,569.8 378.2,569.4 379.0,569.4 379.0,569.9 379.8,569.9 379.8,573.1 380.6,573.1 380.6,570.8 381.4,570.8 381.4,566.7 382.2,566.7 382.2,565.1 383.0,565.1 383.0,568.2 383.8,568.2 383.8,572.6 384.6,572.6 384.6,571.8 385.4,571.8 385.4,567.4 386.2,567.4 386.2,572.1 387.0,572.1 387.0,569.9 387.8,569.9 387.8,566.8 388.6,566.8 388.6,569.5 389.4,569.5 389.4,567.9 390.2,567.9 390.2,564.8 391.0,564.8 391.0,566.5 391.8,566.5 391.8,568.0 392.6,568.0 392.6,571.2 393.4,571.2 393.4,564.3 394.2,564.3 394.2,567.9 395.0,567.9 395.0,567.2 395.8,567.2 395.8,567.0 396.6,567.0 396.6,563.4 397.4,563.4 397.4,570.7 398.2,570.7 398.2,570.8 399.0,570.8 399.0,571.6 399.8,571.6 399.8,568.2 400.6,568.2 400.6,571.1 401.4,571.1 401.4,568.2 402.2,568.2 402.2,569.6 403.0,569.6 403.0,565.5 403.8,565.5 403.8,567.1 404.6,567.1 404.6,565.4 405.4,565.4 405.4,563.1 406.2,563.1 406.2,564.9 407.0,564.9 407.0,562.8 407.8,562.8 407.8,562.7 408.6,562.7 408.6,564.8 409.4,564.8 409.4,564.1 410.2,564.1 410.2,571.7 411.0,571.7 411.0,570.1 411.8,570.1 411.8,567.4 412.6,567.4 412.6,565.9 413.4,565.9 413.4,560.3 414.2,560.3 414.2,563.1 415.0,563.1 415.0,557.6 415.8,557.6 415.8,560.0 416.6,560.0 416.6,560.5 417.4,560.5 417.4,560.8 418.2,560.8 418.2,564.5 419.0,564.5 419.0,559.6 419.8,559.6 419.8,569.2 420.6,569.2 420.6,560.4 421.4,560.4 421.4,564.5 422.2,564.5 422.2,557.2 423.0,557.2 423.0,564.7 423.8,564.7 423.8,558.2 424.6,558.2 424.6,562.5 425.4,562.5 425.4,561.9 426.2,561.9 426.2,564.4 427.0,564.4 427.0,563.8 427.8,563.8 427.8,563.1 428.6,563.1 428.6,561.5 429.4,561.5 429.4,567.8 430.2,567.8 430.2,560.4 431.0,560.4 431.0,561.6 431.8,561.6 431.8,559.9 432.6,559.9 432.6,561.5 433.4,561.5 433.4,558.0 434.2,558.0 434.2,559.4 435.0,559.4 435.0,562.0 435.8,562.0 435.8,558.5 436.6,558.5 436.6,561.4 437.4,561.4 437.4,558.0 438.2,558.0 438.2,563.9 439.0,563.9 439.0,559.0 439.8,559.0 439.8,564.5 440.6,564.5 440.6,560.4 441.4,560.4 441.4,558.3 442.2,558.3 442.2,561.3 443.0,561.3 443.0,561.7 443.8,561.7 443.8,562.5 444.6,562.5 444.6,561.8 445.4,561.8 445.4,560.0 446.2,560.0 446.2,553.5 447.0,553.5 447.0,559.6 447.8,559.6 447.8,556.3 448.6,556.3 448.6,557.5 449.4,557.5 449.4,559.8 450.2,559.8 450.2,553.3 451.0,553.3 451.0,558.7 451.8,558.7 451.8,561.3 452.6,561.3 452.6,555.0 453.4,555.0 453.4,551.7 454.2,551.7 454.2,556.1 455.0,556.1 455.0,551.8 455.8,551.8 455.8,553.7 456.6,553.7 456.6,553.6 457.4,553.6 457.4,544.6 458.2,544.6 458.2,549.5 459.0,549.5 459.0,543.3 459.8,543.3 459.8,545.2 460.6,545.2 460.6,548.5 461.4,548.5 461.4,542.5 462.2,542.5 462.2,543.3 463.0,543.3 463.0,543.5 463.8,543.5 463.8,545.1 464.6,545.1 464.6,546.4 465.4,546.4 465.4,549.7 466.2,549.7 466.2,550.0 467.0,550.0 467.0,552.3 467.8,552.3 467.8,557.2 468.6,557.2 468.6,555.3 469.4,555.3 469.4,557.1 470.2,557.1 470.2,562.7 471.0,562.7 471.0,560.4 471.8,560.4 471.8,561.7 472.6,561.7 472.6,568.5 473.4,568.5 473.4,566.9 474.2,566.9 474.2,562.7 475.0,562.7 475.0,567.7 475.8,567.7 475.8,575.8 476.6,575.8 476.6,579.2 477.4,579.2 477.4,572.8 478.2,572.8 478.2,576.5 479.0,576.5 479.0,577.9 479.8,577.9 479.8,578.2 480.6,578.2 480.6,574.1 481.4,574.1 481.4,581.3 482.2,581.3 482.2,580.3 483.0,580.3 483.0,579.8 483.8,579.8 483.8,577.4 484.6,577.4 484.6,580.3 485.4,580.3 485.4,582.1 486.2,582.1 486.2,582.5 487.0,582.5 487.0,584.2 487.8,584.2 487.8,583.4 488.6,583.4 488.6,586.7 489.4,586.7 489.4,586.4 490.2,586.4 490.2,583.4 491.0,583.4 491.0,585.0 491.8,585.0 491.8,587.4 492.6,587.4 492.6,586.2 493.4,586.2 493.4,589.8 494.2,589.8 494.2,587.2 495.0,587.2 495.0,588.9 495.8,588.9 495.8,589.8 496.6,589.8 496.6,588.1 497.4,588.1 497.4,590.4 498.2,590.4 498.2,589.8 499.0,589.8 499.0,589.4 499.8,589.4 499.8,589.5 500.6,589.5 500.6,588.8 501.0,588.8 501.0,590.4" fill="#dcdcdc" stroke="none"/>
<polyline points="294.2,590.4 294.2,590.4 295.0,590.4 295.0,589.2 295.8,589.2 295.8,590.4 296.6,590.4 296.6,589.8 297.4,589.8 297.4,589.2 298.2,589.2 298.2,589.5 299.0,589.5 299.0,589.5 299.8,589.5 299.8,589.8 300.6,589.8 300.6,590.3 301.4,590.3 301.4,590.4 302.2,590.4 302.2,590.0 303.0,590.0 303.0,590.4 303.8,590.4 303.8,590.2 304.6,590.2 304.6,589.8 305.4,589.8 305.4,589.4 306.2,589.4 306.2,588.5 307.0,588.5 307.0,587.7 307.8,587.7 307.8,589.4 308.6,589.4 308.6,589.2 309.4,589.2 309.4,589.8 310.2,589.8 310.2,589.8 311.0,589.8 311.0,587.7 311.8,587.7 311.8,588.4 312.6,588.4 312.6,587.8 313.4,587.8 313.4,590.4 314.2,590.4 314.2,589.0 315.0,589.0 315.0,589.3 315.8,589.3 315.8,587.8 316.6,587.8 316.6,587.3 317.4,587.3 317.4,588.2 318.2,588.2 318.2,588.8 319.0,588.8 319.0,589.6 319.8,589.6 319.8,586.6 320.6,586.6 320.6,589.3 321.4,589.3 321.4,587.5 322.2,587.5 322.2,587.9 323.0,587.9 323.0,588.2 323.8,588.2 323.8,588.0 324.6,588.0 324.6,589.4 325.4,589.4 325.4,590.0 326.2,590.0 326.2,589.1 327.0,589.1 327.0,587.6 327.8,587.6 327.8,589.2 328.6,589.2 328.6,589.1 329.4,589.1 329.4,589.9 330.2,589.9 330.2,588.7 331.0,588.7 331.0,585.3 331.8,585.3 331.8,586.7 332.6,586.7 332.6,587.2 333.4,587.2 333.4,589.4 334.2,589.4 334.2,587.4 335.0,587.4 335.0,589.2 335.8,589.2 335.8,587.9 336.6,587.9 336.6,584.9 337.4,584.9 337.4,587.2 338.2,587.2 338.2,588.0 339.0,588.0 339.0,587.6 339.8,587.6 339.8,583.7 340.6,583.7 340.6,587.4 341.4,587.4 341.4,585.2 342.2,585.2 342.2,582.0 343.0,582.0 343.0,585.0 343.8,585.0 343.8,582.0 344.6,582.0 344.6,583.2 345.4,583.2 345.4,588.8 346.2,588.8 346.2,590.4 347.0,590.4 347.0,587.9 347.8,587.9 347.8,586.5 348.6,586.5 348.6,589.6 349.4,589.6 349.4,586.2 350.2,586.2 350.2,583.3 351.0,583.3 351.0,580.1 351.8,580.1 351.8,587.3 352.6,587.3 352.6,580.3 353.4,580.3 353.4,578.9 354.2,578.9 354.2,583.7 355.0,583.7 355.0,585.2 355.8,585.2 355.8,583.0 356.6,583.0 356.6,587.3 357.4,587.3 357.4,584.7 358.2,584.7 358.2,583.9 359.0,583.9 359.0,582.6 359.8,582.6 359.8,578.4 360.6,578.4 360.6,578.3 361.4,578.3 361.4,583.0 362.2,583.0 362.2,575.0 363.0,575.0 363.0,577.2 363.8,577.2 363.8,577.8 364.6,577.8 364.6,574.9 365.4,574.9 365.4,575.8 366.2,575.8 366.2,571.4 367.0,571.4 367.0,574.1 367.8,574.1 367.8,575.0 368.6,575.0 368.6,577.3 369.4,577.3 369.4,576.6 370.2,576.6 370.2,572.5 371.0,572.5 371.0,570.8 371.8,570.8 371.8,577.9 372.6,577.9 372.6,575.2 373.4,575.2 373.4,567.7 374.2,567.7 374.2,571.4 375.0,571.4 375.0,569.6 375.8,569.6 375.8,570.0 376.6,570.0 376.6,566.8 377.4,566.8 377.4,569.8 378.2,569.8 378.2,569.4 379.0,569.4 379.0,569.9 379.8,569.9 379.8,573.1 380.6,573.1 380.6,570.8 381.4,570.8 381.4,566.7 382.2,566.7 382.2,565.1 383.0,565.1 383.0,568.2 383.8,568.2 383.8,572.6 384.6,572.6 384.6,571.8 385.4,571.8 385.4,567.4 386.2,567.4 386.2,572.1 387.0,572.1 387.0,569.9 387.8,569.9 387.8,566.8 388.6,566.8 388.6,569.5 389.4,569.5 389.4,567.9 390.2,567.9 390.2,564.8 391.0,564.8 391.0,566.5 391.8,566.5 391.8,568.0 392.6,568.0 392.6,571.2 393.4,571.2 393.4,564.3 394.2,564.3 394.2,567.9 395.0,567.9 395.0,567.2 395.8,567.2 395.8,567.0 396.6,567.0 396.6,563.4 397.4,563.4 397.4,570.7 398.2,570.7 398.2,570.8 399.0,570.8 399.0,571.6 399.8,571.6 399.8,568.2 400.6,568.2 400.6,571.1 401.4,571.1 401.4,568.2 402.2,568.2 402.2,569.6 403.0,569.6 403.0,565.5 403.8,565.5 403.8,567.1 404.6,567.1 404.6,565.4 405.4,565.4 405.4,563.1 406.2,563.1 406.2,564.9 407.0,564.9 407.0,562.8 407.8,562.8 407.8,562.7 408.6,562.7 408.6,564.8 409.4,564.8 409.4,564.1 410.2,564.1 410.2,571.7 411.0,571.7 411.0,570.1 411.8,570.1 411.8,567.4 412.6,567.4 412.6,565.9 413.4,565.9 413.4,560.3 414.2,560.3 414.2,563.1 415.0,563.1 415.0,557.6 415.8,557.6 415.8,560.0 416.6,560.0 416.6,560.5 417.4,560.5 417.4,560.8 418.2,560.8 418.2,564.5 419.0,564.5 419.0,559.6 419.8,559.6 419.8,569.2 420.6,569.2 420.6,560.4 421.4,560.4 421.4,564.5 422.2,564.5 422.2,557.2 423.0,557.2 423.0,564.7 423.8,564.7 423.8,558.2 424.6,558.2 424.6,562.5 425.4,562.5 425.4,561.9 426.2,561.9 426.2,564.4 427.0,564.4 427.0,563.8 427.8,563.8 427.8,563.1 428.6,563.1 428.6,561.5 429.4,561.5 429.4,567.8 430.2,567.8 430.2,560.4 431.0,560.4 431.0,561.6 431.8,561.6 431.8,559.9 432.6,559.9 432.6,561.5 433.4,561.5 433.4,558.0 434.2,558.0 434.2,559.4 435.0,559.4 435.0,562.0 435.8,562.0 435.8,558.5 436.6,558.5 436.6,561.4 437.4,561.4 437.4,558.0 438.2,558.0 438.2,563.9 439.0,563.9 439.0,559.0 439.8,559.0 439.8,564.5 440.6,564.5 440.6,560.4 441.4,560.4 441.4,558.3 442.2,558.3 442.2,561.3 443.0,561.3 443.0,561.7 443.8,561.7 443.8,562.5 444.6,562.5 444.6,561.8 445.4,561.8 445.4,560.0 446.2,560.0 446.2,553.5 447.0,553.5 447.0,559.6 447.8,559.6 447.8,556.3 448.6,556.3 448.6,557.5 449.4,557.5 449.4,559.8 450.2,559.8 450.2,553.3 451.0,553.3 451.0,558.7 451.8,558.7 451.8,561.3 452.6,561.3 452.6,555.0 453.4,555.0 453.4,551.7 454.2,551.7 454.2,556.1 455.0,556.1 455.0,551.8 455.8,551.8 455.8,553.7 456.6,553.7 456.6,553.6 457.4,553.6 457.4,544.6 458.2,544.6 458.2,549.5 459.0,549.5 459.0,543.3 459.8,543.3 459.8,545.2 460.6,545.2 460.6,548.5 461.4,548.5 461.4,542.5 462.2,542.5 462.2,543.3 463.0,543.3 463.0,543.5 463.8,543.5 463.8,545.1 464.6,545.1 464.6,546.4 465.4,546.4 465.4,549.7 466.2,549.7 466.2,550.0 467.0,550.0 467.0,552.3 467.8,552.3 467.8,557.2 468.6,557.2 468.6,555.3 469.4,555.3 469.4,557.1 470.2,557.1 470.2,562.7 471.0,562.7 471.0,560.4 471.8,560.4 471.8,561.7 472.6,561.7 472.6,568.5 473.4,568.5 473.4,566.9 474.2,566.9 474.2,562.7 475.0,562.7 475.0,567.7 475.8,567.7 475.8,575.8 476.6,575.8 476.6,579.2 477.4,579.2 477.4,572.8 478.2,572.8 478.2,576.5 479.0,576.5 479.0,577.9 479.8,577.9 479.8,578.2 480.6,578.2 480.6,574.1 481.4,574.1 481.4,581.3 482.2,581.3 482.2,580.3 483.0,580.3 483.0,579.8 483.8,579.8 483.8,577.4 484.6,577.4 484.6,580.3 485.4,580.3 485.4,582.1 486.2,582.1 486.2,582.5 487.0,582.5 487.0,584.2 487.8,584.2 487.8,583.4 488.6,583.4 488.6,586.7 489.4,586.7 489.4,586.4 490.2,586.4 490.2,583.4 491.0,583.4 491.0,585.0 491.8,585.0 491.8,587.4 492.6,587.4 492.6,586.2 493.4,586.2 493.4,589.8 494.2,589.8 494.2,587.2 495.0,587.2 495.0,588.9 495.8,588.9 495.8,589.8 496.6,589.8 496.6,588.1 497.4,588.1 497.4,590.4 498.2,590.4 498.2,589.8 499.0,589.8 499.0,589.4 499.8,589.4 499.8,589.5 500.6,589.5 500.6,588.8 501.0,588.8 501.0,590.4" fill="none" stroke="#555" stroke-width="0.9"/>
<polyline points="333.5,541.0 335.0,535.0 337.0,528.7 340.5,525.3 342.2,521.8 344.0,500.9 345.7,495.7 347.0,485.0 347.4,474.6" fill="none" stroke="#111" stroke-width="1.7" stroke-dasharray="1.6,1.3"/>
<polyline points="347.0,485.0 347.4,474.6 349.2,497.4 350.0,480.0 352.3,476.0 353.2,464.0 354.4,442.0 355.5,433.0 356.8,407.1 357.2,455.5 359.2,438.0 360.4,426.5 361.5,450.0 362.8,452.0 364.0,401.0 364.6,425.0 365.3,412.0 368.0,414.0 370.1,426.5" fill="none" stroke="#111" stroke-width="1.7" stroke-dasharray="1.6,1.3"/>
<polyline points="294.4,590.0 294.5,569.0 296.0,572.0 297.0,572.3 299.6,579.2 301.0,575.0 302.2,557.5 302.8,575.8 305.7,570.5 308.0,570.0 310.9,569.7 313.0,567.0 316.1,563.6 318.0,566.0 319.6,572.3 320.5,560.0 321.3,552.2 323.0,558.0 324.8,565.3 326.0,555.0 328.3,541.0 329.5,550.0 331.0,554.9 332.0,545.0 333.5,541.0" fill="none" stroke="#222" stroke-width="1.2"/>
<polyline points="370.1,426.5 371.3,452.0 373.1,455.5 374.3,475.0 375.3,502.6 377.9,514.8 378.6,515.0 379.2,562.0" fill="none" stroke="#555" stroke-width="1.2" stroke-dasharray="2,1.2"/>
<rect x="354.4" y="433" width="4.800000000000011" height="9.199999999999989" fill="#333"/>
<line x1="355.6" y1="433" x2="355.6" y2="442.2" stroke="#fff" stroke-width="0.7" stroke-dasharray="1.2,1.3"/>
<line x1="357.2" y1="433" x2="357.2" y2="442.2" stroke="#fff" stroke-width="0.7" stroke-dasharray="1.2,1.3"/>
<rect x="365.3" y="412" width="4.800000000000011" height="14.5" fill="#333"/>
<line x1="366.5" y1="412" x2="366.5" y2="426.5" stroke="#fff" stroke-width="0.7" stroke-dasharray="1.2,1.3"/>
<line x1="368.1" y1="412" x2="368.1" y2="426.5" stroke="#fff" stroke-width="0.7" stroke-dasharray="1.2,1.3"/>
<polyline points="294.2,590.4 294.2,588.7 295.0,588.7 295.0,589.3 295.8,589.3 295.8,590.4 296.6,590.4 296.6,589.7 297.4,589.7 297.4,589.6 298.2,589.6 298.2,590.2 299.0,590.2 299.0,588.1 299.8,588.1 299.8,590.2 300.6,590.2 300.6,590.4 301.4,590.4 301.4,589.2 302.2,589.2 302.2,590.4 303.0,590.4 303.0,589.1 303.8,589.1 303.8,589.2 304.6,589.2 304.6,589.6 305.4,589.6 305.4,590.3 306.2,590.3 306.2,590.4 307.0,590.4 307.0,586.9 307.8,586.9 307.8,587.5 308.6,587.5 308.6,590.4 309.4,590.4 309.4,588.7 310.2,588.7 310.2,588.5 311.0,588.5 311.0,588.8 311.8,588.8 311.8,590.4 312.6,590.4 312.6,589.1 313.4,589.1 313.4,587.7 314.2,587.7 314.2,586.7 315.0,586.7 315.0,586.8 315.8,586.8 315.8,587.7 316.6,587.7 316.6,586.7 317.4,586.7 317.4,586.3 318.2,586.3 318.2,589.6 319.0,589.6 319.0,589.3 319.8,589.3 319.8,587.3 320.6,587.3 320.6,590.4 321.4,590.4 321.4,588.9 322.2,588.9 322.2,587.3 323.0,587.3 323.0,588.9 323.8,588.9 323.8,588.4 324.6,588.4 324.6,586.9 325.4,586.9 325.4,590.1 326.2,590.1 326.2,585.7 327.0,585.7 327.0,589.0 327.8,589.0 327.8,587.1 328.6,587.1 328.6,589.3 329.4,589.3 329.4,588.4 330.2,588.4 330.2,589.3 331.0,589.3 331.0,584.0 331.8,584.0 331.8,586.5 332.6,586.5 332.6,588.2 333.4,588.2 333.4,585.6 334.2,585.6 334.2,589.3 335.0,589.3 335.0,587.2 335.8,587.2 335.8,587.0 336.6,587.0 336.6,584.4 337.4,584.4 337.4,581.0 338.2,581.0 338.2,584.8 339.0,584.8 339.0,584.2 339.8,584.2 339.8,585.2 340.6,585.2 340.6,582.8 341.4,582.8 341.4,581.1 342.2,581.1 342.2,582.0 343.0,582.0 343.0,580.0 343.8,580.0 343.8,580.9 344.6,580.9 344.6,582.4 345.4,582.4 345.4,582.4 346.2,582.4 346.2,583.2 347.0,583.2 347.0,580.5 347.8,580.5 347.8,582.9 348.6,582.9 348.6,581.1 349.4,581.1 349.4,578.5 350.2,578.5 350.2,579.0 351.0,579.0 351.0,580.5 351.8,580.5 351.8,579.0 352.6,579.0 352.6,578.8 353.4,578.8 353.4,580.7 354.2,580.7 354.2,577.0 355.0,577.0 355.0,578.7 355.8,578.7 355.8,577.4 356.6,577.4 356.6,575.8 357.4,575.8 357.4,578.3 358.2,578.3 358.2,580.8 359.0,580.8 359.0,577.5 359.8,577.5 359.8,576.6 360.6,576.6 360.6,580.4 361.4,580.4 361.4,578.6 362.2,578.6 362.2,578.2 363.0,578.2 363.0,579.2 363.8,579.2 363.8,576.9 364.6,576.9 364.6,575.9 365.4,575.9 365.4,577.8 366.2,577.8 366.2,576.1 367.0,576.1 367.0,572.0 367.8,572.0 367.8,577.0 368.6,577.0 368.6,575.0 369.4,575.0 369.4,578.3 370.2,578.3 370.2,573.9 371.0,573.9 371.0,569.0 371.8,569.0 371.8,573.2 372.6,573.2 372.6,572.4 373.4,572.4 373.4,576.8 374.2,576.8 374.2,575.2 375.0,575.2 375.0,575.5 375.8,575.5 375.8,570.8 376.6,570.8 376.6,571.8 377.4,571.8 377.4,574.9 378.2,574.9 378.2,568.2 379.0,568.2 379.0,571.4 379.8,571.4 379.8,573.0 380.6,573.0 380.6,568.2 381.4,568.2 381.4,569.5 382.2,569.5 382.2,562.8 383.0,562.8 383.0,571.8 383.8,571.8 383.8,565.1 384.6,565.1 384.6,571.0 385.4,571.0 385.4,568.0 386.2,568.0 386.2,562.8 387.0,562.8 387.0,562.6 387.8,562.6 387.8,562.9 388.6,562.9 388.6,564.7 389.4,564.7 389.4,568.7 390.2,568.7 390.2,564.6 391.0,564.6 391.0,566.0 391.8,566.0 391.8,560.6 392.6,560.6 392.6,565.4 393.4,565.4 393.4,563.3 394.2,563.3 394.2,563.8 395.0,563.8 395.0,564.5 395.8,564.5 395.8,567.5 396.6,567.5 396.6,565.4 397.4,565.4 397.4,564.9 398.2,564.9 398.2,563.3 399.0,563.3 399.0,561.8 399.8,561.8 399.8,564.3 400.6,564.3 400.6,563.9 401.4,563.9 401.4,561.8 402.2,561.8 402.2,562.1 403.0,562.1 403.0,560.3 403.8,560.3 403.8,557.7 404.6,557.7 404.6,561.9 405.4,561.9 405.4,555.1 406.2,555.1 406.2,560.3 407.0,560.3 407.0,556.3 407.8,556.3 407.8,558.8 408.6,558.8 408.6,565.3 409.4,565.3 409.4,561.7 410.2,561.7 410.2,562.0 411.0,562.0 411.0,557.4 411.8,557.4 411.8,553.3 412.6,553.3 412.6,561.2 413.4,561.2 413.4,561.3 414.2,561.3 414.2,554.7 415.0,554.7 415.0,554.9 415.8,554.9 415.8,554.8 416.6,554.8 416.6,553.7 417.4,553.7 417.4,557.8 418.2,557.8 418.2,559.2 419.0,559.2 419.0,552.5 419.8,552.5 419.8,561.7 420.6,561.7 420.6,550.0 421.4,550.0 421.4,555.5 422.2,555.5 422.2,557.1 423.0,557.1 423.0,543.4 423.8,543.4 423.8,552.7 424.6,552.7 424.6,549.2 425.4,549.2 425.4,551.3 426.2,551.3 426.2,553.9 427.0,553.9 427.0,550.8 427.8,550.8 427.8,544.2 428.6,544.2 428.6,561.9 429.4,561.9 429.4,557.8 430.2,557.8 430.2,551.4 431.0,551.4 431.0,550.4 431.8,550.4 431.8,554.7 432.6,554.7 432.6,544.9 433.4,544.9 433.4,553.9 434.2,553.9 434.2,541.6 435.0,541.6 435.0,553.0 435.8,553.0 435.8,553.5 436.6,553.5 436.6,547.6 437.4,547.6 437.4,545.9 438.2,545.9 438.2,548.0 439.0,548.0 439.0,540.3 439.8,540.3 439.8,540.2 440.6,540.2 440.6,545.5 441.4,545.5 441.4,547.8 442.2,547.8 442.2,537.4 443.0,537.4 443.0,542.7 443.8,542.7 443.8,545.7 444.6,545.7 444.6,543.7 445.4,543.7 445.4,539.2 446.2,539.2 446.2,542.8 447.0,542.8 447.0,542.4 447.8,542.4 447.8,550.9 448.6,550.9 448.6,548.8 449.4,548.8 449.4,539.1 450.2,539.1 450.2,551.5 451.0,551.5 451.0,537.6 451.8,537.6 451.8,532.7 452.6,532.7 452.6,531.2 453.4,531.2 453.4,536.9 454.2,536.9 454.2,553.8 455.0,553.8 455.0,541.9 455.8,541.9 455.8,519.8 456.6,519.8 456.6,532.9 457.4,532.9 457.4,527.7 458.2,527.7 458.2,525.4 459.0,525.4 459.0,544.0 459.8,544.0 459.8,541.9 460.6,541.9 460.6,526.7 461.4,526.7 461.4,535.9 462.2,535.9 462.2,536.7 463.0,536.7 463.0,535.6 463.8,535.6 463.8,543.7 464.6,543.7 464.6,536.6 465.4,536.6 465.4,525.7 466.2,525.7 466.2,532.5 467.0,532.5 467.0,512.4 467.8,512.4 467.8,522.7 468.6,522.7 468.6,534.8 469.4,534.8 469.4,529.7 470.2,529.7 470.2,522.2 471.0,522.2 471.0,525.7 471.8,525.7 471.8,530.9 472.6,530.9 472.6,545.0 473.4,545.0 473.4,541.9 474.2,541.9 474.2,552.6 475.0,552.6 475.0,549.4 475.8,549.4 475.8,557.1 476.6,557.1 476.6,551.5 477.4,551.5 477.4,545.8 478.2,545.8 478.2,565.2 479.0,565.2 479.0,559.7 479.8,559.7 479.8,562.9 480.6,562.9 480.6,568.4 481.4,568.4 481.4,573.9 482.2,573.9 482.2,568.3 483.0,568.3 483.0,572.7 483.8,572.7 483.8,575.2 484.6,575.2 484.6,577.1 485.4,577.1 485.4,567.8 486.2,567.8 486.2,569.4 487.0,569.4 487.0,570.7 487.8,570.7 487.8,571.5 488.6,571.5 488.6,574.2 489.4,574.2 489.4,578.0 490.2,578.0 490.2,579.8 491.0,579.8 491.0,588.9 491.8,588.9 491.8,585.8 492.6,585.8 492.6,586.0 493.4,586.0 493.4,586.1 494.2,586.1 494.2,587.8 495.0,587.8 495.0,582.9 495.8,582.9 495.8,586.2 496.6,586.2 496.6,586.2 497.4,586.2 497.4,589.1 498.2,589.1 498.2,588.2 499.0,588.2 499.0,589.1 499.8,589.1 499.8,589.4 500.6,589.4 500.6,589.4 501.0,589.4 501.0,590.4" fill="none" stroke="#000" stroke-width="1.1"/>
<line x1="41.4" y1="393.9" x2="246.6" y2="393.9" stroke="#999" stroke-width="1.1"/>
<line x1="246.6" y1="393.4" x2="246.6" y2="591.9" stroke="#444" stroke-width="1.0"/>
<line x1="41.4" y1="393.29999999999995" x2="41.4" y2="592.5" stroke="#111" stroke-width="1.3" stroke-dasharray="2.4,1.1"/>
<line x1="40.8" y1="591.9" x2="247.2" y2="591.9" stroke="#111" stroke-width="1.3"/>
<line x1="38.9" y1="591.90" x2="41.4" y2="591.90" stroke="#222" stroke-width="0.9"/>
<line x1="38.9" y1="583.98" x2="41.4" y2="583.98" stroke="#222" stroke-width="0.9"/>
<line x1="38.9" y1="576.06" x2="41.4" y2="576.06" stroke="#222" stroke-width="0.9"/>
<line x1="38.9" y1="568.14" x2="41.4" y2="568.14" stroke="#222" stroke-width="0.9"/>
<line x1="38.9" y1="560.22" x2="41.4" y2="560.22" stroke="#222" stroke-width="0.9"/>
<line x1="38.9" y1="552.30" x2="41.4" y2="552.30" stroke="#222" stroke-width="0.9"/>
<line x1="38.9" y1="544.38" x2="41.4" y2="544.38" stroke="#222" stroke-width="0.9"/>
<line x1="38.9" y1="536.46" x2="41.4" y2="536.46" stroke="#222" stroke-width="0.9"/>
<line x1="38.9" y1="528.54" x2="41.4" y2="528.54" stroke="#222" stroke-width="0.9"/>
<line x1="38.9" y1="520.62" x2="41.4" y2="520.62" stroke="#222" stroke-width="0.9"/>
<line x1="38.9" y1="512.70" x2="41.4" y2="512.70" stroke="#222" stroke-width="0.9"/>
<line x1="38.9" y1="504.78" x2="41.4" y2="504.78" stroke="#222" stroke-width="0.9"/>
<line x1="38.9" y1="496.86" x2="41.4" y2="496.86" stroke="#222" stroke-width="0.9"/>
<line x1="38.9" y1="488.94" x2="41.4" y2="488.94" stroke="#222" stroke-width="0.9"/>
<line x1="38.9" y1="481.02" x2="41.4" y2="481.02" stroke="#222" stroke-width="0.9"/>
<line x1="38.9" y1="473.10" x2="41.4" y2="473.10" stroke="#222" stroke-width="0.9"/>
<line x1="38.9" y1="465.18" x2="41.4" y2="465.18" stroke="#222" stroke-width="0.9"/>
<line x1="38.9" y1="457.26" x2="41.4" y2="457.26" stroke="#222" stroke-width="0.9"/>
<line x1="38.9" y1="449.34" x2="41.4" y2="449.34" stroke="#222" stroke-width="0.9"/>
<line x1="38.9" y1="441.42" x2="41.4" y2="441.42" stroke="#222" stroke-width="0.9"/>
<line x1="38.9" y1="433.50" x2="41.4" y2="433.50" stroke="#222" stroke-width="0.9"/>
<line x1="38.9" y1="425.58" x2="41.4" y2="425.58" stroke="#222" stroke-width="0.9"/>
<line x1="38.9" y1="417.66" x2="41.4" y2="417.66" stroke="#222" stroke-width="0.9"/>
<line x1="38.9" y1="409.74" x2="41.4" y2="409.74" stroke="#222" stroke-width="0.9"/>
<line x1="38.9" y1="401.82" x2="41.4" y2="401.82" stroke="#222" stroke-width="0.9"/>
<line x1="38.9" y1="393.90" x2="41.4" y2="393.90" stroke="#222" stroke-width="0.9"/>
<text transform="translate(33.5,593.00) rotate(-90)" font-size="14.7" text-anchor="middle" font-family="'Liberation Sans', sans-serif">0</text>
<text transform="translate(33.5,553.40) rotate(-90)" font-size="14.7" text-anchor="middle" font-family="'Liberation Sans', sans-serif">10</text>
<text transform="translate(33.5,513.80) rotate(-90)" font-size="14.7" text-anchor="middle" font-family="'Liberation Sans', sans-serif">20</text>
<text transform="translate(33.5,474.20) rotate(-90)" font-size="14.7" text-anchor="middle" font-family="'Liberation Sans', sans-serif">30</text>
<text transform="translate(33.5,434.60) rotate(-90)" font-size="14.7" text-anchor="middle" font-family="'Liberation Sans', sans-serif">40</text>
<text transform="translate(33.5,395.00) rotate(-90)" font-size="14.7" text-anchor="middle" font-family="'Liberation Sans', sans-serif">50</text>
<line x1="41.40" y1="591.9" x2="41.40" y2="594.9" stroke="#222" stroke-width="0.9"/>
<line x1="56.84" y1="591.9" x2="56.84" y2="593.9" stroke="#222" stroke-width="0.9"/>
<line x1="65.88" y1="591.9" x2="65.88" y2="593.9" stroke="#222" stroke-width="0.9"/>
<line x1="72.29" y1="591.9" x2="72.29" y2="593.9" stroke="#222" stroke-width="0.9"/>
<line x1="77.26" y1="591.9" x2="77.26" y2="593.9" stroke="#222" stroke-width="0.9"/>
<line x1="81.32" y1="591.9" x2="81.32" y2="593.9" stroke="#222" stroke-width="0.9"/>
<line x1="84.75" y1="591.9" x2="84.75" y2="593.9" stroke="#222" stroke-width="0.9"/>
<line x1="87.73" y1="591.9" x2="87.73" y2="593.9" stroke="#222" stroke-width="0.9"/>
<line x1="90.35" y1="591.9" x2="90.35" y2="593.9" stroke="#222" stroke-width="0.9"/>
<line x1="92.70" y1="591.9" x2="92.70" y2="594.9" stroke="#222" stroke-width="0.9"/>
<line x1="108.14" y1="591.9" x2="108.14" y2="593.9" stroke="#222" stroke-width="0.9"/>
<line x1="117.18" y1="591.9" x2="117.18" y2="593.9" stroke="#222" stroke-width="0.9"/>
<line x1="123.59" y1="591.9" x2="123.59" y2="593.9" stroke="#222" stroke-width="0.9"/>
<line x1="128.56" y1="591.9" x2="128.56" y2="593.9" stroke="#222" stroke-width="0.9"/>
<line x1="132.62" y1="591.9" x2="132.62" y2="593.9" stroke="#222" stroke-width="0.9"/>
<line x1="136.05" y1="591.9" x2="136.05" y2="593.9" stroke="#222" stroke-width="0.9"/>
<line x1="139.03" y1="591.9" x2="139.03" y2="593.9" stroke="#222" stroke-width="0.9"/>
<line x1="141.65" y1="591.9" x2="141.65" y2="593.9" stroke="#222" stroke-width="0.9"/>
<line x1="144.00" y1="591.9" x2="144.00" y2="594.9" stroke="#222" stroke-width="0.9"/>
<line x1="159.44" y1="591.9" x2="159.44" y2="593.9" stroke="#222" stroke-width="0.9"/>
<line x1="168.48" y1="591.9" x2="168.48" y2="593.9" stroke="#222" stroke-width="0.9"/>
<line x1="174.89" y1="591.9" x2="174.89" y2="593.9" stroke="#222" stroke-width="0.9"/>
<line x1="179.86" y1="591.9" x2="179.86" y2="593.9" stroke="#222" stroke-width="0.9"/>
<line x1="183.92" y1="591.9" x2="183.92" y2="593.9" stroke="#222" stroke-width="0.9"/>
<line x1="187.35" y1="591.9" x2="187.35" y2="593.9" stroke="#222" stroke-width="0.9"/>
<line x1="190.33" y1="591.9" x2="190.33" y2="593.9" stroke="#222" stroke-width="0.9"/>
<line x1="192.95" y1="591.9" x2="192.95" y2="593.9" stroke="#222" stroke-width="0.9"/>
<line x1="195.30" y1="591.9" x2="195.30" y2="594.9" stroke="#222" stroke-width="0.9"/>
<line x1="210.74" y1="591.9" x2="210.74" y2="593.9" stroke="#222" stroke-width="0.9"/>
<line x1="219.78" y1="591.9" x2="219.78" y2="593.9" stroke="#222" stroke-width="0.9"/>
<line x1="226.19" y1="591.9" x2="226.19" y2="593.9" stroke="#222" stroke-width="0.9"/>
<line x1="231.16" y1="591.9" x2="231.16" y2="593.9" stroke="#222" stroke-width="0.9"/>
<line x1="235.22" y1="591.9" x2="235.22" y2="593.9" stroke="#222" stroke-width="0.9"/>
<line x1="238.65" y1="591.9" x2="238.65" y2="593.9" stroke="#222" stroke-width="0.9"/>
<line x1="241.63" y1="591.9" x2="241.63" y2="593.9" stroke="#222" stroke-width="0.9"/>
<line x1="244.25" y1="591.9" x2="244.25" y2="593.9" stroke="#222" stroke-width="0.9"/>
<text x="31.10" y="609.2" font-size="12.3" textLength="15" lengthAdjust="spacingAndGlyphs" font-family="'Liberation Sans', sans-serif">10</text>
<text x="46.10" y="603.2" font-size="10.8" font-family="'Liberation Sans', sans-serif">0</text>
<text x="82.40" y="609.2" font-size="12.3" textLength="15" lengthAdjust="spacingAndGlyphs" font-family="'Liberation Sans', sans-serif">10</text>
<text x="97.40" y="603.2" font-size="10.8" font-family="'Liberation Sans', sans-serif">1</text>
<text x="133.70" y="609.2" font-size="12.3" textLength="15" lengthAdjust="spacingAndGlyphs" font-family="'Liberation Sans', sans-serif">10</text>
<text x="148.70" y="603.2" font-size="10.8" font-family="'Liberation Sans', sans-serif">2</text>
<text x="185.00" y="609.2" font-size="12.3" textLength="15" lengthAdjust="spacingAndGlyphs" font-family="'Liberation Sans', sans-serif">10</text>
<text x="200.00" y="603.2" font-size="10.8" font-family="'Liberation Sans', sans-serif">3</text>
<text x="236.30" y="609.2" font-size="12.3" textLength="15" lengthAdjust="spacingAndGlyphs" font-family="'Liberation Sans', sans-serif">10</text>
<text x="251.30" y="603.2" font-size="10.8" font-family="'Liberation Sans', sans-serif">4</text>
<text transform="translate(13.4,519.5) rotate(-90)" font-size="17.4" textLength="52.1" lengthAdjust="spacingAndGlyphs" font-family="'Liberation Sans', sans-serif">Counts</text>
<text x="178.0" y="425.4" font-size="19.6" textLength="52.5" lengthAdjust="spacingAndGlyphs" font-family="'Liberation Sans', sans-serif">CD25</text>
<text x="102.2" y="626.0" font-size="14.8" textLength="82.5" lengthAdjust="spacingAndGlyphs" font-family="'Liberation Sans', sans-serif">FL1-Height</text>
<line x1="294.1" y1="394.6" x2="501.1" y2="394.6" stroke="#999" stroke-width="1.1"/>
<line x1="501.1" y1="394.1" x2="501.1" y2="590.4" stroke="#8a8a8a" stroke-width="1.3"/>
<line x1="294.1" y1="394.0" x2="294.1" y2="591.0" stroke="#111" stroke-width="1.3"/>
<line x1="293.5" y1="590.4" x2="501.70000000000005" y2="590.4" stroke="#111" stroke-width="1.3"/>
<line x1="291.6" y1="590.40" x2="294.1" y2="590.40" stroke="#222" stroke-width="0.9"/>
<line x1="291.6" y1="583.87" x2="294.1" y2="583.87" stroke="#222" stroke-width="0.9"/>
<line x1="291.6" y1="577.35" x2="294.1" y2="577.35" stroke="#222" stroke-width="0.9"/>
<line x1="291.6" y1="570.82" x2="294.1" y2="570.82" stroke="#222" stroke-width="0.9"/>
<line x1="291.6" y1="564.29" x2="294.1" y2="564.29" stroke="#222" stroke-width="0.9"/>
<line x1="291.6" y1="557.77" x2="294.1" y2="557.77" stroke="#222" stroke-width="0.9"/>
<line x1="291.6" y1="551.24" x2="294.1" y2="551.24" stroke="#222" stroke-width="0.9"/>
<line x1="291.6" y1="544.71" x2="294.1" y2="544.71" stroke="#222" stroke-width="0.9"/>
<line x1="291.6" y1="538.19" x2="294.1" y2="538.19" stroke="#222" stroke-width="0.9"/>
<line x1="291.6" y1="531.66" x2="294.1" y2="531.66" stroke="#222" stroke-width="0.9"/>
<line x1="291.6" y1="525.13" x2="294.1" y2="525.13" stroke="#222" stroke-width="0.9"/>
<line x1="291.6" y1="518.61" x2="294.1" y2="518.61" stroke="#222" stroke-width="0.9"/>
<line x1="291.6" y1="512.08" x2="294.1" y2="512.08" stroke="#222" stroke-width="0.9"/>
<line x1="291.6" y1="505.55" x2="294.1" y2="505.55" stroke="#222" stroke-width="0.9"/>
<line x1="291.6" y1="499.03" x2="294.1" y2="499.03" stroke="#222" stroke-width="0.9"/>
<line x1="291.6" y1="492.50" x2="294.1" y2="492.50" stroke="#222" stroke-width="0.9"/>
<line x1="291.6" y1="485.97" x2="294.1" y2="485.97" stroke="#222" stroke-width="0.9"/>
<line x1="291.6" y1="479.45" x2="294.1" y2="479.45" stroke="#222" stroke-width="0.9"/>
<line x1="291.6" y1="472.92" x2="294.1" y2="472.92" stroke="#222" stroke-width="0.9"/>
<line x1="291.6" y1="466.39" x2="294.1" y2="466.39" stroke="#222" stroke-width="0.9"/>
<line x1="291.6" y1="459.87" x2="294.1" y2="459.87" stroke="#222" stroke-width="0.9"/>
<line x1="291.6" y1="453.34" x2="294.1" y2="453.34" stroke="#222" stroke-width="0.9"/>
<line x1="291.6" y1="446.81" x2="294.1" y2="446.81" stroke="#222" stroke-width="0.9"/>
<line x1="291.6" y1="440.29" x2="294.1" y2="440.29" stroke="#222" stroke-width="0.9"/>
<line x1="291.6" y1="433.76" x2="294.1" y2="433.76" stroke="#222" stroke-width="0.9"/>
<line x1="291.6" y1="427.23" x2="294.1" y2="427.23" stroke="#222" stroke-width="0.9"/>
<line x1="291.6" y1="420.71" x2="294.1" y2="420.71" stroke="#222" stroke-width="0.9"/>
<line x1="291.6" y1="414.18" x2="294.1" y2="414.18" stroke="#222" stroke-width="0.9"/>
<line x1="291.6" y1="407.65" x2="294.1" y2="407.65" stroke="#222" stroke-width="0.9"/>
<line x1="291.6" y1="401.13" x2="294.1" y2="401.13" stroke="#222" stroke-width="0.9"/>
<line x1="291.6" y1="394.60" x2="294.1" y2="394.60" stroke="#222" stroke-width="0.9"/>
<text transform="translate(288.3,591.50) rotate(-90)" font-size="15.0" text-anchor="middle" font-family="'Liberation Sans', sans-serif">0</text>
<text transform="translate(288.3,558.87) rotate(-90)" font-size="15.0" text-anchor="middle" font-family="'Liberation Sans', sans-serif">10</text>
<text transform="translate(288.3,526.23) rotate(-90)" font-size="15.0" text-anchor="middle" font-family="'Liberation Sans', sans-serif">20</text>
<text transform="translate(288.3,493.60) rotate(-90)" font-size="15.0" text-anchor="middle" font-family="'Liberation Sans', sans-serif">30</text>
<text transform="translate(288.3,460.97) rotate(-90)" font-size="15.0" text-anchor="middle" font-family="'Liberation Sans', sans-serif">40</text>
<text transform="translate(288.3,428.33) rotate(-90)" font-size="15.0" text-anchor="middle" font-family="'Liberation Sans', sans-serif">50</text>
<text transform="translate(288.3,395.70) rotate(-90)" font-size="15.0" text-anchor="middle" font-family="'Liberation Sans', sans-serif">60</text>
<line x1="294.10" y1="590.4" x2="294.10" y2="593.4" stroke="#222" stroke-width="0.9"/>
<line x1="309.68" y1="590.4" x2="309.68" y2="592.4" stroke="#222" stroke-width="0.9"/>
<line x1="318.79" y1="590.4" x2="318.79" y2="592.4" stroke="#222" stroke-width="0.9"/>
<line x1="325.26" y1="590.4" x2="325.26" y2="592.4" stroke="#222" stroke-width="0.9"/>
<line x1="330.27" y1="590.4" x2="330.27" y2="592.4" stroke="#222" stroke-width="0.9"/>
<line x1="334.37" y1="590.4" x2="334.37" y2="592.4" stroke="#222" stroke-width="0.9"/>
<line x1="337.83" y1="590.4" x2="337.83" y2="592.4" stroke="#222" stroke-width="0.9"/>
<line x1="340.83" y1="590.4" x2="340.83" y2="592.4" stroke="#222" stroke-width="0.9"/>
<line x1="343.48" y1="590.4" x2="343.48" y2="592.4" stroke="#222" stroke-width="0.9"/>
<line x1="345.85" y1="590.4" x2="345.85" y2="593.4" stroke="#222" stroke-width="0.9"/>
<line x1="361.43" y1="590.4" x2="361.43" y2="592.4" stroke="#222" stroke-width="0.9"/>
<line x1="370.54" y1="590.4" x2="370.54" y2="592.4" stroke="#222" stroke-width="0.9"/>
<line x1="377.01" y1="590.4" x2="377.01" y2="592.4" stroke="#222" stroke-width="0.9"/>
<line x1="382.02" y1="590.4" x2="382.02" y2="592.4" stroke="#222" stroke-width="0.9"/>
<line x1="386.12" y1="590.4" x2="386.12" y2="592.4" stroke="#222" stroke-width="0.9"/>
<line x1="389.58" y1="590.4" x2="389.58" y2="592.4" stroke="#222" stroke-width="0.9"/>
<line x1="392.58" y1="590.4" x2="392.58" y2="592.4" stroke="#222" stroke-width="0.9"/>
<line x1="395.23" y1="590.4" x2="395.23" y2="592.4" stroke="#222" stroke-width="0.9"/>
<line x1="397.60" y1="590.4" x2="397.60" y2="593.4" stroke="#222" stroke-width="0.9"/>
<line x1="413.18" y1="590.4" x2="413.18" y2="592.4" stroke="#222" stroke-width="0.9"/>
<line x1="422.29" y1="590.4" x2="422.29" y2="592.4" stroke="#222" stroke-width="0.9"/>
<line x1="428.76" y1="590.4" x2="428.76" y2="592.4" stroke="#222" stroke-width="0.9"/>
<line x1="433.77" y1="590.4" x2="433.77" y2="592.4" stroke="#222" stroke-width="0.9"/>
<line x1="437.87" y1="590.4" x2="437.87" y2="592.4" stroke="#222" stroke-width="0.9"/>
<line x1="441.33" y1="590.4" x2="441.33" y2="592.4" stroke="#222" stroke-width="0.9"/>
<line x1="444.33" y1="590.4" x2="444.33" y2="592.4" stroke="#222" stroke-width="0.9"/>
<line x1="446.98" y1="590.4" x2="446.98" y2="592.4" stroke="#222" stroke-width="0.9"/>
<line x1="449.35" y1="590.4" x2="449.35" y2="593.4" stroke="#222" stroke-width="0.9"/>
<line x1="464.93" y1="590.4" x2="464.93" y2="592.4" stroke="#222" stroke-width="0.9"/>
<line x1="474.04" y1="590.4" x2="474.04" y2="592.4" stroke="#222" stroke-width="0.9"/>
<line x1="480.51" y1="590.4" x2="480.51" y2="592.4" stroke="#222" stroke-width="0.9"/>
<line x1="485.52" y1="590.4" x2="485.52" y2="592.4" stroke="#222" stroke-width="0.9"/>
<line x1="489.62" y1="590.4" x2="489.62" y2="592.4" stroke="#222" stroke-width="0.9"/>
<line x1="493.08" y1="590.4" x2="493.08" y2="592.4" stroke="#222" stroke-width="0.9"/>
<line x1="496.08" y1="590.4" x2="496.08" y2="592.4" stroke="#222" stroke-width="0.9"/>
<line x1="498.73" y1="590.4" x2="498.73" y2="592.4" stroke="#222" stroke-width="0.9"/>
<text x="283.80" y="609.2" font-size="12.3" textLength="15" lengthAdjust="spacingAndGlyphs" font-family="'Liberation Sans', sans-serif">10</text>
<text x="298.80" y="603.2" font-size="10.8" font-family="'Liberation Sans', sans-serif">0</text>
<text x="335.55" y="609.2" font-size="12.3" textLength="15" lengthAdjust="spacingAndGlyphs" font-family="'Liberation Sans', sans-serif">10</text>
<text x="350.55" y="603.2" font-size="10.8" font-family="'Liberation Sans', sans-serif">1</text>
<text x="387.30" y="609.2" font-size="12.3" textLength="15" lengthAdjust="spacingAndGlyphs" font-family="'Liberation Sans', sans-serif">10</text>
<text x="402.30" y="603.2" font-size="10.8" font-family="'Liberation Sans', sans-serif">2</text>
<text x="439.05" y="609.2" font-size="12.3" textLength="15" lengthAdjust="spacingAndGlyphs" font-family="'Liberation Sans', sans-serif">10</text>
<text x="454.05" y="603.2" font-size="10.8" font-family="'Liberation Sans', sans-serif">3</text>
<text x="490.80" y="609.2" font-size="12.3" textLength="15" lengthAdjust="spacingAndGlyphs" font-family="'Liberation Sans', sans-serif">10</text>
<text x="505.80" y="603.2" font-size="10.8" font-family="'Liberation Sans', sans-serif">4</text>
<text transform="translate(271.9,518.7) rotate(-90)" font-size="17.4" textLength="53.3" lengthAdjust="spacingAndGlyphs" font-family="'Liberation Sans', sans-serif">Counts</text>
<text x="431.4" y="425.4" font-size="19.6" textLength="54" lengthAdjust="spacingAndGlyphs" font-family="'Liberation Sans', sans-serif">CD69</text>
<text x="357.1" y="626.0" font-size="14.8" textLength="83.0" lengthAdjust="spacingAndGlyphs" font-family="'Liberation Sans', sans-serif">FL2-Height</text>
<text x="94.6" y="653.8" font-size="17.2" textLength="347.5" lengthAdjust="spacingAndGlyphs" font-family="'Liberation Sans', sans-serif">Fluorescence intensity / Relative units</text>
</svg>
</body></html>
